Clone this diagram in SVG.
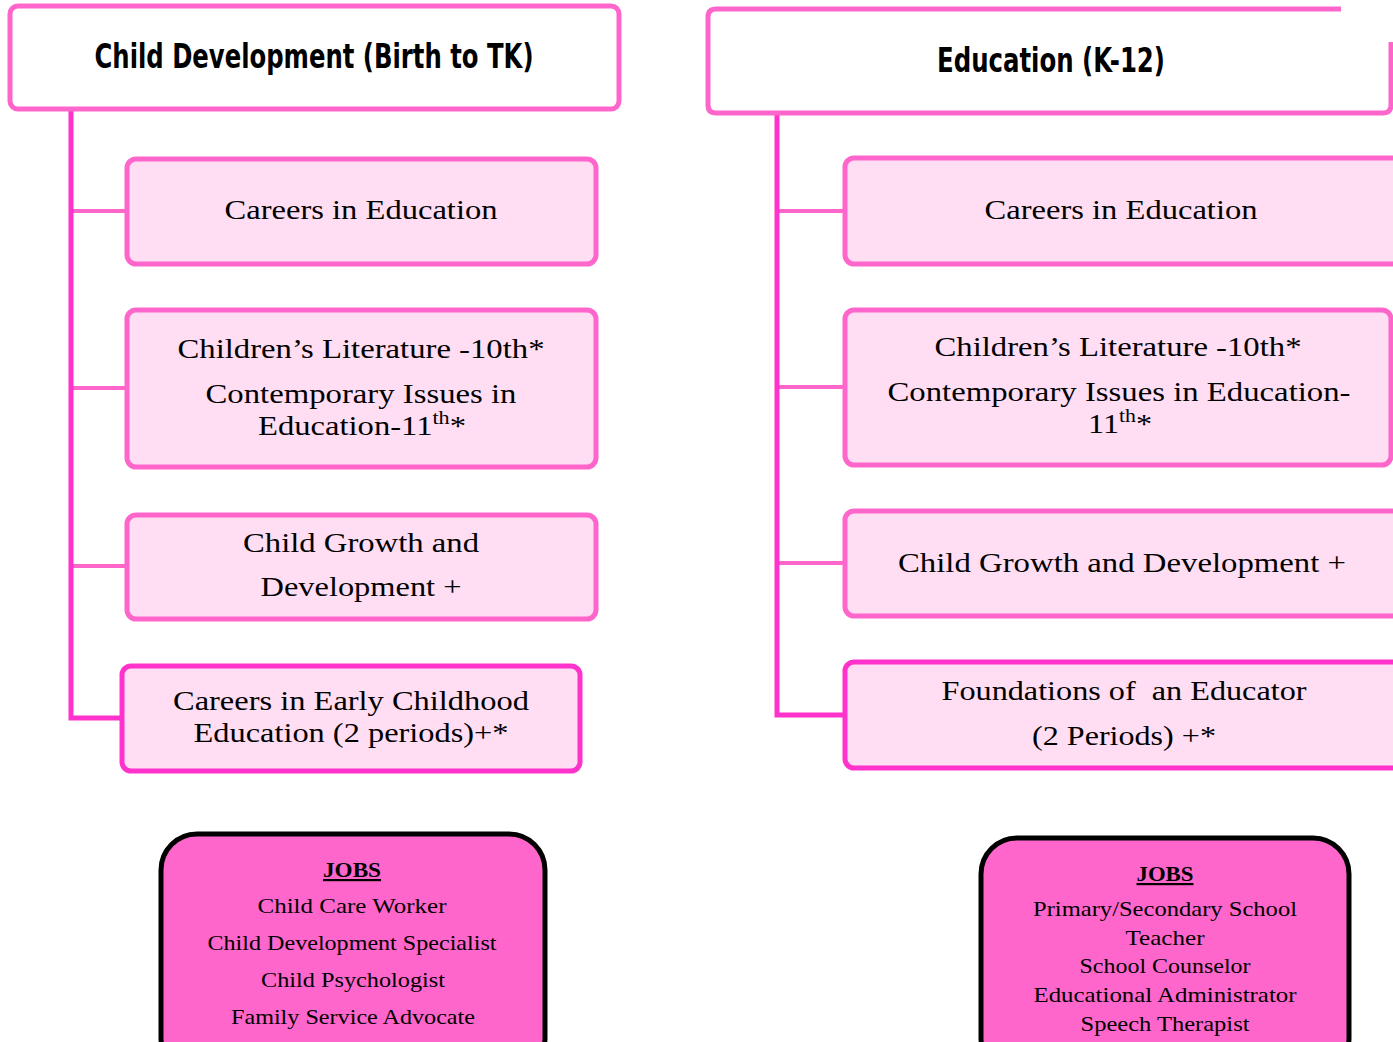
<svg xmlns="http://www.w3.org/2000/svg" width="1393" height="1042" viewBox="0 0 1393 1042">
<style>
.hdr{fill:#fff;stroke:#FF66CC;stroke-width:5}
.box{fill:#FFDDF3;stroke:#FF66CC;stroke-width:5}
.box2{fill:#FFDDF3;stroke:#FF33CC;stroke-width:5}
.jobs{fill:#FF66CC;stroke:#000;stroke-width:5}
.trunk{stroke:#FF33CC;stroke-width:5;fill:none}
.br{stroke:#FF66CC;stroke-width:4;fill:none}
.ht{font-family:"DejaVu Sans Condensed","DejaVu Sans",sans-serif;font-weight:bold;font-size:34px;fill:#000;text-anchor:middle}
.t{font-family:"Liberation Serif",serif;font-size:28px;fill:#000;text-anchor:middle;white-space:pre}
.j{font-family:"Liberation Serif",serif;font-size:22px;fill:#000;text-anchor:middle}
.jb{font-family:"Liberation Serif",serif;font-size:22px;font-weight:bold;fill:#000;text-anchor:middle;text-decoration:underline}
</style>
<rect width="1393" height="1042" fill="#fff"/>
<g id="connectors">
<line class="br" x1="71" y1="211" x2="127" y2="211"/>
<line class="br" x1="71" y1="388" x2="127" y2="388"/>
<line class="br" x1="71" y1="566" x2="127" y2="566"/>
<polyline class="trunk" points="71,109 71,718 122,718"/>
<line class="br" x1="777" y1="211" x2="845" y2="211"/>
<line class="br" x1="777" y1="387" x2="845" y2="387"/>
<line class="br" x1="777" y1="563" x2="845" y2="563"/>
<polyline class="trunk" points="777,113 777,715 845,715"/>
</g>
<g id="hdr-left">
<rect class="hdr" x="10" y="6" width="609" height="103" rx="8"/>
<text class="ht" x="314" y="68" textLength="439" lengthAdjust="spacingAndGlyphs">Child Development (Birth to TK)</text>
</g>
<g id="hdr-right">
<path class="hdr" d="M1341,9 H716 Q708,9 708,17 V105 Q708,113 716,113 H1383 Q1391,113 1391,105 V42"/>
<text class="ht" x="1051" y="72" textLength="228" lengthAdjust="spacingAndGlyphs">Education (K-12)</text>
</g>
<g id="l1">
<rect class="box" x="127" y="159" width="469" height="105" rx="9"/>
<text class="t" x="361" y="219" textLength="273" lengthAdjust="spacingAndGlyphs">Careers in Education</text>
</g>
<g id="l2">
<rect class="box" x="127" y="310" width="469" height="157" rx="9"/>
<text class="t" x="361" y="358" textLength="367" lengthAdjust="spacingAndGlyphs">Children’s Literature -10th*</text>
<text class="t" x="361" y="403" textLength="311" lengthAdjust="spacingAndGlyphs">Contemporary Issues in</text>
<text class="t" x="362" y="435" textLength="208" lengthAdjust="spacingAndGlyphs">Education-11<tspan font-size="19" dy="-11">th</tspan><tspan dy="11">*</tspan></text>
</g>
<g id="l3">
<rect class="box" x="127" y="515" width="469" height="104" rx="9"/>
<text class="t" x="361" y="552" textLength="236" lengthAdjust="spacingAndGlyphs">Child Growth and</text>
<text class="t" x="361" y="596" textLength="201" lengthAdjust="spacingAndGlyphs">Development +</text>
</g>
<g id="l4">
<rect class="box2" x="122" y="666" width="458" height="105" rx="9"/>
<text class="t" x="351" y="710" textLength="356" lengthAdjust="spacingAndGlyphs">Careers in Early Childhood</text>
<text class="t" x="351" y="742" textLength="315" lengthAdjust="spacingAndGlyphs">Education (2 periods)+*</text>
</g>
<g id="r1">
<rect class="box" x="845" y="158" width="560" height="106" rx="9"/>
<text class="t" x="1121" y="219" textLength="273" lengthAdjust="spacingAndGlyphs">Careers in Education</text>
</g>
<g id="r2">
<rect class="box" x="845" y="310" width="546" height="155" rx="9"/>
<text class="t" x="1118" y="356" textLength="367" lengthAdjust="spacingAndGlyphs">Children’s Literature -10th*</text>
<text class="t" x="1119" y="401" textLength="463" lengthAdjust="spacingAndGlyphs">Contemporary Issues in Education-</text>
<text class="t" x="1120" y="433" textLength="64" lengthAdjust="spacingAndGlyphs">11<tspan font-size="19" dy="-11">th</tspan><tspan dy="11">*</tspan></text>
</g>
<g id="r3">
<rect class="box" x="845" y="511" width="560" height="105" rx="9"/>
<text class="t" x="1122" y="572" textLength="448" lengthAdjust="spacingAndGlyphs">Child Growth and Development +</text>
</g>
<g id="r4">
<rect class="box2" x="845" y="662" width="560" height="106" rx="9"/>
<text class="t" x="1124" y="700" textLength="365" lengthAdjust="spacingAndGlyphs">Foundations of  an Educator</text>
<text class="t" x="1124" y="745" textLength="184" lengthAdjust="spacingAndGlyphs">(2 Periods) +*</text>
</g>
<g id="jobs-left">
<rect class="jobs" x="161" y="834" width="384" height="240" rx="36"/>
<text class="jb" x="352" y="877" textLength="58" lengthAdjust="spacingAndGlyphs">JOBS</text>
<text class="j" x="352" y="913" textLength="189" lengthAdjust="spacingAndGlyphs">Child Care Worker</text>
<text class="j" x="352" y="950" textLength="289" lengthAdjust="spacingAndGlyphs">Child Development Specialist</text>
<text class="j" x="353" y="987" textLength="184" lengthAdjust="spacingAndGlyphs">Child Psychologist</text>
<text class="j" x="353" y="1024" textLength="244" lengthAdjust="spacingAndGlyphs">Family Service Advocate</text>
</g>
<g id="jobs-right">
<rect class="jobs" x="981" y="838" width="368" height="236" rx="36"/>
<text class="jb" x="1165" y="881" textLength="57" lengthAdjust="spacingAndGlyphs">JOBS</text>
<text class="j" x="1165" y="916" textLength="264" lengthAdjust="spacingAndGlyphs">Primary/Secondary School</text>
<text class="j" x="1165" y="945" textLength="79" lengthAdjust="spacingAndGlyphs">Teacher</text>
<text class="j" x="1165" y="973" textLength="171" lengthAdjust="spacingAndGlyphs">School Counselor</text>
<text class="j" x="1165" y="1002" textLength="263" lengthAdjust="spacingAndGlyphs">Educational Administrator</text>
<text class="j" x="1165" y="1031" textLength="169" lengthAdjust="spacingAndGlyphs">Speech Therapist</text>
</g>
</svg>
